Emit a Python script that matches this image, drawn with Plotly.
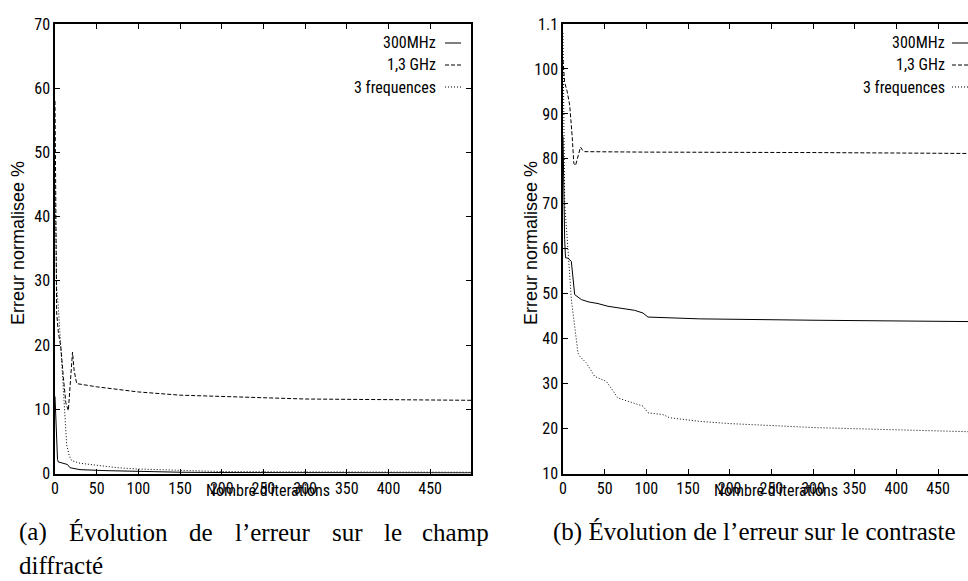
import plotly.graph_objects as go

# ---------------- data ----------------
# (a) error on diffracted field
a_300_x = [0, 1, 2, 3, 4, 10, 15, 18, 30, 60, 100, 150, 200, 300, 400, 499]
a_300_y = [12, 8, 4, 2.2, 1.8, 1.6, 1.4, 0.9, 0.6, 0.45, 0.3, 0.2, 0.15, 0.12, 0.1, 0.1]
a_13_x = [0, 1, 2, 4, 7, 10, 13, 16, 19, 21, 23, 26, 50, 80, 100, 150, 200, 250, 300, 400, 499]
a_13_y = [58, 30, 25, 22, 19.7, 15, 11, 9.8, 15, 18.9, 16, 14.0, 13.5, 13.0, 12.7, 12.2, 12.0, 11.8, 11.6, 11.5, 11.4]
a_3f_x = [0, 1, 2, 4, 6, 8, 10, 12, 14, 17, 20, 30, 54, 75, 99, 150, 200, 300, 499]
a_3f_y = [45, 35, 29, 26, 22, 18, 14, 9, 4.5, 2.8, 2.0, 1.6, 1.25, 0.9, 0.7, 0.45, 0.3, 0.25, 0.2]

# (b) error on contrast
b_300_x = [0, 1, 2, 3, 6, 10, 14, 22, 30, 42, 54, 86, 96, 102, 164, 300, 400, 486]
b_300_y = [85, 70, 62, 58, 57.9, 57.2, 49.8, 48.7, 48.2, 47.8, 47.2, 46.3, 45.7, 44.8, 44.4, 44.1, 43.9, 43.8]
b_13_x = [0, 2, 5, 8, 11, 13, 15, 19, 21, 24, 26, 100, 200, 300, 400, 486]
b_13_y = [102, 97, 95, 92, 85, 79, 78.5, 81, 82.6, 81.8, 81.6, 81.5, 81.5, 81.4, 81.3, 81.2]
b_3f_x = [0, 1, 2, 6, 10, 18, 20, 28, 38, 52, 66, 84, 96, 102, 120, 128, 164, 200, 304, 384, 486]
b_3f_y = [108, 82, 70, 59.8, 48.7, 36.8, 36.1, 34.6, 31.6, 30.5, 26.8, 25.7, 25.0, 23.5, 23.1, 22.4, 21.6, 21.1, 20.2, 19.8, 19.3]

series_names = ["300MHz", "1,3 GHz", "3 frequences"]
x_ticks = [0, 50, 100, 150, 200, 250, 300, 350, 400, 450]
a_yticks = [0, 10, 20, 30, 40, 50, 60, 70]
b_yticks = [10, 20, 30, 40, 50, 60, 70, 80, 90, 100, 110]
b_yticktext = ["10", "20", "30", "40", "50", "60", "70", "80", "90", "100", "1.1"]
y_title = "Erreur normalisee %"
x_title = "Nombre d'iterations"
cap_a1_words = ["(a)", "Évolution", "de", "l’erreur", "sur", "le", "champ"]
cap_a2 = "diffracté"
cap_b = "(b) Évolution de l’erreur sur le contraste"

# ---------------- style ----------------
W, H = 968, 581
SANS = "Liberation Sans Narrow, Arial Narrow, Roboto Condensed, DejaVu Sans Condensed, Liberation Sans, sans-serif"
WIDE = "Liberation Sans, Arial, sans-serif"
SERIF = "Liberation Serif, Times New Roman, serif"
FS = 16
dashes = ["solid", "4px,2px", "1px,2px"]

def px2x(p):
    return p / W

def px2y(p):
    return 1 - p / H

fig = go.Figure()
sets_a = [(a_300_x, a_300_y), (a_13_x, a_13_y), (a_3f_x, a_3f_y)]
sets_b = [(b_300_x, b_300_y), (b_13_x, b_13_y), (b_3f_x, b_3f_y)]
for i, (xs, ys) in enumerate(sets_a):
    fig.add_trace(go.Scatter(x=xs, y=ys, mode="lines", name=series_names[i],
                             line=dict(color="black", width=1, dash=dashes[i]),
                             xaxis="x", yaxis="y", showlegend=False))
for i, (xs, ys) in enumerate(sets_b):
    fig.add_trace(go.Scatter(x=xs, y=ys, mode="lines", name=series_names[i],
                             line=dict(color="black", width=1, dash=dashes[i]),
                             xaxis="x2", yaxis="y2", showlegend=False))

top, bot = 24, 473.5
axfont = dict(family=SANS, size=FS, color="black")
common_x = dict(showgrid=False, zeroline=False, showline=True, linecolor="black", linewidth=1.5,
                ticks="inside", ticklen=5, tickcolor="black", mirror="ticks", automargin=False,
                tickvals=x_ticks, tickfont=axfont)
common_y = dict(showgrid=False, zeroline=False, showline=True, linecolor="black", linewidth=1.5,
                ticks="inside", ticklen=5, tickcolor="black", automargin=False, tickfont=axfont)

fig.update_layout(
    template="none",
    width=W, height=H, margin=dict(l=0, r=0, t=0, b=0, pad=0),
    paper_bgcolor="white", plot_bgcolor="white", showlegend=False,
    xaxis=dict(domain=[px2x(55), px2x(471)], range=[0, 499], anchor="y", **common_x),
    yaxis=dict(domain=[px2y(bot), px2y(top)], range=[0, 70], anchor="x", tickvals=a_yticks,
               mirror="ticks", **common_y),
    xaxis2=dict(domain=[px2x(563), 1.0], range=[0, 486], anchor="y2", **common_x),
    yaxis2=dict(domain=[px2y(bot), px2y(top)], range=[10, 110], anchor="x2", tickvals=b_yticks,
                ticktext=b_yticktext, mirror=False, **common_y),
)

ann = []
# axis titles
for cx, cy in [(268, 490), (776, 490)]:
    ann.append(dict(x=px2x(cx), y=px2y(cy), xref="paper", yref="paper", text=x_title,
                    showarrow=False, font=dict(family=SANS, size=FS, color="black"),
                    xanchor="center", yanchor="middle"))
for cx in [18, 531]:
    ann.append(dict(x=px2x(cx), y=px2y(243), xref="paper", yref="paper", text=y_title,
                    showarrow=False, textangle=-90, font=dict(family=WIDE, size=18, color="black"),
                    xanchor="center", yanchor="middle"))
# legends
shapes = []
rows = [43, 65, 87]
for tx, lx0, lx1 in [(438, 445, 461), (947, 952, 968)]:
    for i, ry in enumerate(rows):
        ann.append(dict(x=px2x(tx), y=px2y(ry), xref="paper", yref="paper", text=series_names[i],
                        showarrow=False, font=dict(family=SANS, size=FS, color="black"),
                        xanchor="right", yanchor="middle"))
        shapes.append(dict(type="line", xref="paper", yref="paper",
                           x0=px2x(lx0), x1=px2x(lx1), y0=px2y(ry), y1=px2y(ry),
                           line=dict(color="black", width=1, dash=dashes[i])))
# captions (line 1 of (a) is justified between x=18 and x=490)
capfont = dict(family=SERIF, size=25, color="black")
word_x = [18, 67.7, 188.2, 233.7, 330.6, 383.1, 490]
for i, w in enumerate(cap_a1_words):
    last = i == len(cap_a1_words) - 1
    ann.append(dict(x=px2x(word_x[i]), y=px2y(532), xref="paper", yref="paper", text=w,
                    showarrow=False, font=capfont, xanchor="right" if last else "left",
                    yanchor="middle", borderpad=0))
ann.append(dict(x=px2x(18), y=px2y(565), xref="paper", yref="paper", text=cap_a2,
                showarrow=False, font=capfont, xanchor="left", yanchor="middle", borderpad=0))
ann.append(dict(x=px2x(552), y=px2y(532), xref="paper", yref="paper", text=cap_b,
                showarrow=False, font=capfont, xanchor="left", yanchor="middle", borderpad=0))

fig.update_layout(annotations=ann, shapes=shapes)
fig.write_html("out.html", config={"displayModeBar": False},
               post_script="document.body.style.margin='0';")
